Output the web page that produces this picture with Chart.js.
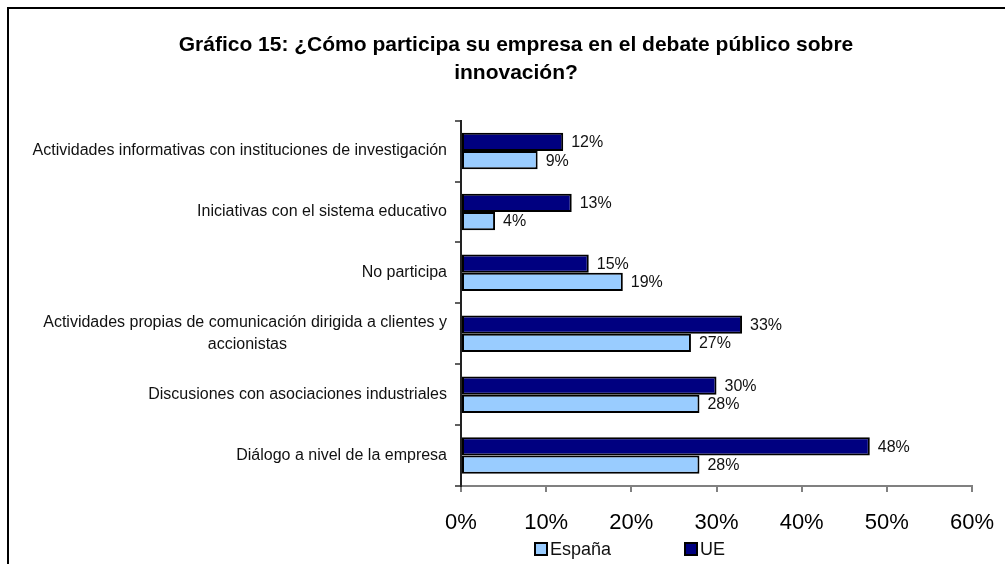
<html>
<head>
<meta charset="utf-8">
<title>Gráfico 15</title>
<script src="https://cdn.jsdelivr.net/npm/chart.js@4.4.1/dist/chart.umd.min.js"></script>
<style>
    body { margin: 0; background: #fff; }
    .container { width: 1005px; height: 564px; position: relative; }
</style>
</head>
<body>
<div class="container">
    <canvas id="myChart"></canvas>
</div>
<script>
    // categories, top to bottom
    const categories = [
        "Actividades informativas con instituciones de investigación",
        "Iniciativas con el sistema educativo",
        "No participa",
        ["Actividades propias de comunicación dirigida a clientes y", "accionistas" + " ".repeat(36)],
        "Discusiones con asociaciones industriales",
        "Diálogo a nivel de la empresa"
    ];
    const ueValues = [12, 13, 15, 33, 30, 48];
    const espanaValues = [9, 4, 19, 27, 28, 28];
    const titleLines = ["Gráfico 15: ¿Cómo participa su empresa en el debate público sobre", "innovación?"];
    const legendOrder = ["España", "UE"];

    const FONT = "'Liberation Sans', Arial, sans-serif";

    // frame around the chart (left and top only are visible)
    // also nudges the title a bit to the right like in the original
    const framePlugin = {
        id: 'frame',
        afterLayout(chart) {
            chart.titleBlock.left += 27;
        },
        beforeDraw(chart) {
            const c = chart.ctx;
            c.save();
            c.strokeStyle = '#000';
            c.lineWidth = 2;
            c.beginPath();
            c.moveTo(8, chart.height);
            c.lineTo(8, 8);
            c.lineTo(chart.width, 8);
            c.stroke();
            c.restore();
        }
    };

    // value labels at the end of each bar
    const valueLabels = {
        id: 'valueLabels',
        afterDatasetsDraw(chart) {
            const c = chart.ctx;
            c.save();
            c.font = '16px ' + FONT;
            c.fillStyle = '#111';
            c.textAlign = 'left';
            c.textBaseline = 'middle';
            chart.data.datasets.forEach(function (ds, i) {
                chart.getDatasetMeta(i).data.forEach(function (bar, j) {
                    c.fillText(ds.data[j] + '%', bar.x + 8, bar.y + 1);
                });
            });
            c.restore();
        }
    };

    // legend drawn by hand so it sits where the original one does
    const customLegend = {
        id: 'customLegend',
        afterDraw(chart) {
            const c = chart.ctx;
            c.save();
            c.font = '18px ' + FONT;
            c.textBaseline = 'middle';
            c.textAlign = 'left';
            let xs = [535, 685];
            legendOrder.forEach(function (name, k) {
                let ds = chart.data.datasets.find(d => d.label === name);
                let x = xs[k], y = 549;
                c.fillStyle = ds.backgroundColor;
                c.fillRect(x, y - 6, 12, 12);
                c.strokeStyle = '#000';
                c.lineWidth = 2;
                c.strokeRect(x, y - 6, 12, 12);
                c.fillStyle = '#111';
                c.fillText(name, x + 15, y + 1);
            });
            c.restore();
        }
    };

    const ctx = document.getElementById('myChart').getContext('2d');
    const myChart = new Chart(ctx, {
        type: 'bar',
        data: {
            labels: categories,
            datasets: [{
                label: 'UE',
                data: ueValues,
                backgroundColor: '#000080',
                borderColor: '#000',
                borderWidth: 2,
                borderSkipped: false,
                categoryPercentage: 0.6,
                barPercentage: 1.0
            }, {
                label: 'España',
                data: espanaValues,
                backgroundColor: '#99CCFF',
                borderColor: '#000',
                borderWidth: 2,
                borderSkipped: false,
                categoryPercentage: 0.6,
                barPercentage: 1.0
            }]
        },
        options: {
            indexAxis: 'y',
            responsive: true,
            maintainAspectRatio: false,
            animation: false,
            layout: { padding: { left: 0, right: 0, top: 0, bottom: 30 } },
            plugins: {
                legend: { display: false },
                tooltip: { enabled: false },
                title: {
                    display: true,
                    text: titleLines,
                    color: '#000',
                    font: { family: FONT, size: 21, weight: 'bold', lineHeight: 1.3 },
                    padding: { top: 32, bottom: 34 }
                }
            },
            scales: {
                x: {
                    min: 0,
                    max: 60,
                    ticks: {
                        stepSize: 10,
                        color: '#000',
                        padding: 18,
                        font: { family: FONT, size: 22 },
                        callback: function (v) { return v + '%'; }
                    },
                    grid: { drawOnChartArea: false, tickLength: 6, color: '#808080', lineWidth: 2 },
                    border: { color: '#808080', width: 2 },
                    afterFit: function (scale) {
                        scale.height = 48;
                        scale.paddingRight = 33;
                    }
                },
                y: {
                    ticks: {
                        color: '#111',
                        padding: 8,
                        font: { family: FONT, size: 16, lineHeight: 1.4 }
                    },
                    grid: { drawOnChartArea: false, offset: true, tickLength: 6, color: '#606060', lineWidth: 2 },
                    border: { color: '#222', width: 2 },
                    afterFit: function (scale) { scale.width = 461; }
                }
            }
        },
        plugins: [framePlugin, valueLabels, customLegend]
    });
</script>
</body>
</html>
